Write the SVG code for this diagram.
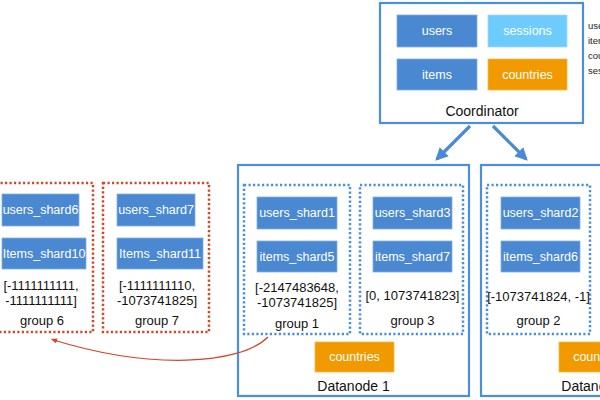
<svg xmlns="http://www.w3.org/2000/svg" width="600" height="400" viewBox="0 0 600 400">
<defs>
<style>
.bg{fill:#ffffff}
.frame{fill:#ffffff;stroke:#4A8FDB;stroke-width:2.2}
.grpB{fill:none;stroke:#4A8FDB;stroke-width:2.5;stroke-dasharray:2.2 2.3}
.grpR{fill:none;stroke:#D2462A;stroke-width:2.5;stroke-dasharray:2.2 2.3}
.blue{fill:#4A88D1;stroke:#7FB0E6;stroke-width:0.8}
.light{fill:#6DCBFE;stroke:#9EDCFF;stroke-width:0.8}
.orange{fill:#F09A00;stroke:#F5B94F;stroke-width:0.8}
.wt{font-family:"Liberation Sans",Arial,Helvetica,sans-serif;font-size:12.5px;fill:#ffffff;text-anchor:middle;dominant-baseline:central}
.bt{font-family:"Liberation Sans",Arial,Helvetica,sans-serif;font-size:13px;fill:#111111;text-anchor:middle;dominant-baseline:central}
.ttl{font-family:"Liberation Sans",Arial,Helvetica,sans-serif;font-size:14px;fill:#111111;text-anchor:middle;dominant-baseline:central}
.side{font-family:"Liberation Sans",Arial,Helvetica,sans-serif;font-size:9.5px;fill:#222222;dominant-baseline:central}
.arrB{fill:none;stroke:#4A89D6;stroke-width:3.2}
.arrR{fill:none;stroke:#D2462A;stroke-width:1.3}
</style>
<marker id="hb" viewBox="0 0 10 10" refX="8" refY="5" markerWidth="4" markerHeight="4" orient="auto" markerUnits="strokeWidth">
<path d="M0,0 L10,5 L0,10 z" fill="#4A89D6"/>
</marker>
<marker id="hr" viewBox="0 0 10 10" refX="8" refY="5" markerWidth="5" markerHeight="5" orient="auto" markerUnits="strokeWidth">
<path d="M0,1 L10,5 L0,9 z" fill="#D2462A"/>
</marker>
</defs>
<rect class="bg" x="0" y="0" width="600" height="400"/>

<g id="coordinator">
<rect class="frame" x="380" y="3" width="203" height="120"/>
<text class="ttl" x="482" y="111">Coordinator</text>
</g>
<g id="coord-users"><rect class="blue" x="397" y="15" width="80" height="32"/><text class="wt" x="437" y="31">users</text></g>
<g id="coord-sessions"><rect class="light" x="488" y="15" width="79" height="32"/><text class="wt" x="527.5" y="31">sessions</text></g>
<g id="coord-items"><rect class="blue" x="397" y="59" width="80" height="31"/><text class="wt" x="437" y="74.5">items</text></g>
<g id="coord-countries"><rect class="orange" x="488" y="59" width="79" height="31"/><text class="wt" x="527.5" y="74.5">countries</text></g>

<g id="side-list">
<text class="side" x="588" y="25">users</text>
<text class="side" x="588" y="40">items</text>
<text class="side" x="588" y="55">countries</text>
<text class="side" x="588" y="70">sessions</text>
</g>

<g id="datanode1">
<rect class="frame" x="238" y="165" width="231" height="231"/>
<text class="ttl" x="353.5" y="386">Datanode 1</text>
</g>
<g id="datanode2">
<rect class="frame" x="481" y="165" width="231" height="231"/>
<text class="ttl" x="597.5" y="386">Datanode 2</text>
</g>

<g id="group1">
<rect class="grpB" x="244" y="185" width="106" height="149"/>
<text class="bt" x="297" y="287">[-2147483648,</text>
<text class="bt" x="297" y="302">-1073741825]</text>
<text class="bt" x="297" y="323">group 1</text>
</g>
<g id="users_shard1"><rect class="blue" x="257" y="197" width="80" height="32"/><text class="wt" x="297" y="213">users_shard1</text></g>
<g id="items_shard5"><rect class="blue" x="257" y="241" width="80" height="31"/><text class="wt" x="297" y="256.5">items_shard5</text></g>

<g id="group3">
<rect class="grpB" x="360" y="185" width="103" height="149"/>
<text class="bt" x="412.5" y="295">[0, 1073741823]</text>
<text class="bt" x="412.5" y="320">group 3</text>
</g>
<g id="users_shard3"><rect class="blue" x="373" y="197" width="79" height="32"/><text class="wt" x="412.5" y="213">users_shard3</text></g>
<g id="items_shard7"><rect class="blue" x="373" y="241" width="79" height="31"/><text class="wt" x="412.5" y="256.5">items_shard7</text></g>

<g id="dn1-countries"><rect class="orange" x="315" y="342" width="79" height="30"/><text class="wt" x="354.5" y="357">countries</text></g>

<g id="group2">
<rect class="grpB" x="487" y="185" width="103" height="149"/>
<text class="bt" x="538.5" y="296">[-1073741824, -1]</text>
<text class="bt" x="538.5" y="320">group 2</text>
</g>
<g id="users_shard2"><rect class="blue" x="501" y="197" width="79" height="32"/><text class="wt" x="540.5" y="213">users_shard2</text></g>
<g id="items_shard6"><rect class="blue" x="501" y="241" width="79" height="31"/><text class="wt" x="540.5" y="256.5">items_shard6</text></g>
<g id="dn2-countries"><rect class="orange" x="559" y="342" width="79" height="30"/><text class="wt" x="598.5" y="357">countries</text></g>

<g id="group6">
<rect class="grpR" x="-13" y="183" width="106" height="149"/>
<text class="bt" x="41" y="285">[-1111111111,</text>
<text class="bt" x="41" y="300">-1111111111]</text>
<text class="bt" x="42" y="320">group 6</text>
</g>
<g id="users_shard6"><rect class="blue" x="2" y="194" width="77" height="32"/><text class="wt" x="40.5" y="210">users_shard6</text></g>
<g id="items_shard10"><rect class="blue" x="2" y="238" width="84" height="31"/><text class="wt" x="44" y="253.5">Items_shard10</text></g>

<g id="group7">
<rect class="grpR" x="103" y="183" width="106" height="149"/>
<text class="bt" x="157" y="285">[-1111111110,</text>
<text class="bt" x="157" y="300">-1073741825]</text>
<text class="bt" x="157" y="320">group 7</text>
</g>
<g id="users_shard7"><rect class="blue" x="117" y="194" width="78" height="32"/><text class="wt" x="156" y="210">users_shard7</text></g>
<g id="items_shard11"><rect class="blue" x="117" y="238" width="86" height="31"/><text class="wt" x="160" y="253.5">Items_shard11</text></g>

<g id="connectors">
<path class="arrB" d="M470,126 L437,159" marker-end="url(#hb)"/>
<path class="arrB" d="M493,126 L526,159" marker-end="url(#hb)"/>
<path class="arrR" d="M268,337 C240,365 150,370 52,339.5" marker-end="url(#hr)"/>
</g>
</svg>
